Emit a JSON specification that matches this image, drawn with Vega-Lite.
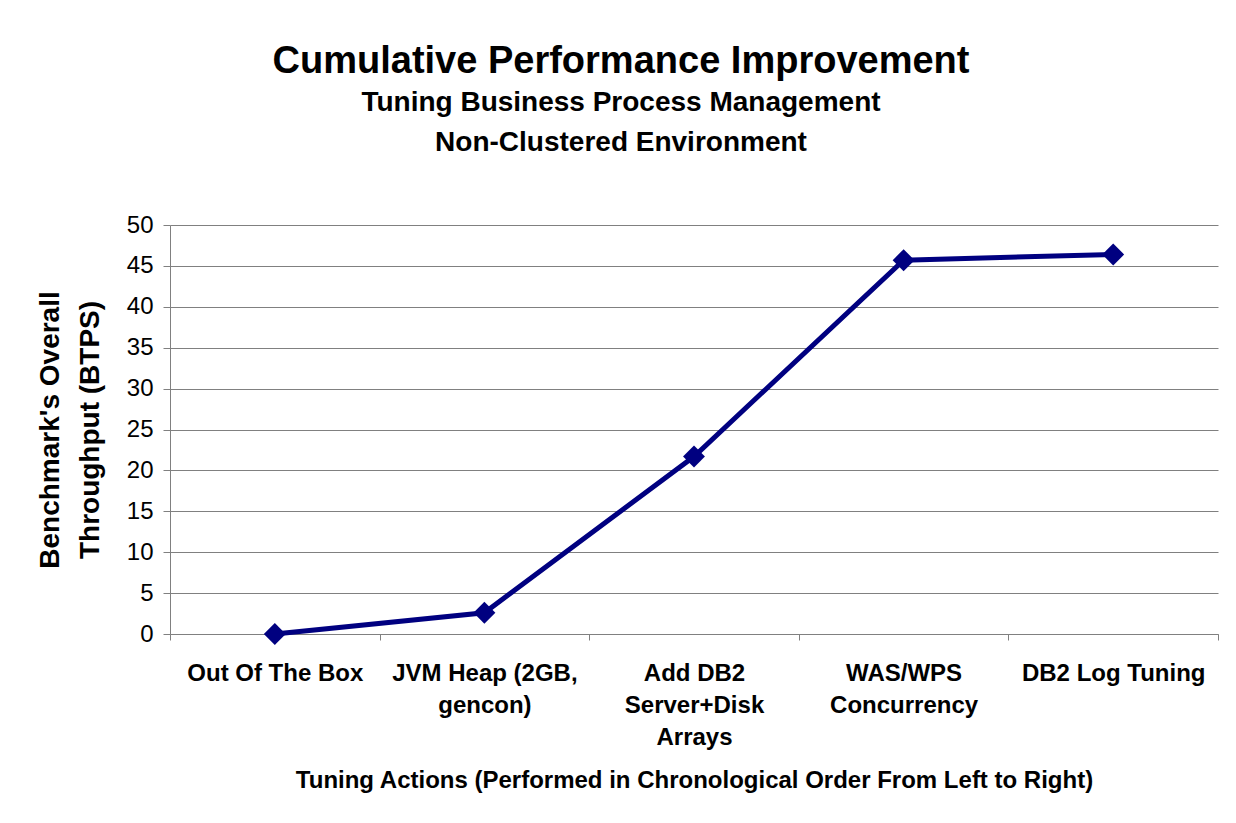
{
  "$schema": "https://vega.github.io/schema/vega-lite/v6.json",
  "autosize": {"type": "none"},
  "width": 1048,
  "height": 409,
  "padding": {"left": 170, "top": 225, "right": 18, "bottom": 189},
  "background": "white",
  "title": {
    "text": "Cumulative Performance Improvement",
    "subtitle": ["Tuning Business Process Management", "Non-Clustered Environment"],
    "anchor": "middle",
    "dx": -73,
    "offset": 56,
    "font": "Liberation Sans",
    "fontSize": 38,
    "fontWeight": "bold",
    "color": "black",
    "subtitleFont": "Liberation Sans",
    "subtitleFontSize": 28,
    "subtitleFontWeight": "bold",
    "subtitleColor": "black",
    "subtitleLineHeight": 40,
    "subtitlePadding": 8
  },
  "config": {
    "view": {"stroke": null},
    "axis": {
      "labelFont": "Liberation Sans",
      "titleFont": "Liberation Sans",
      "labelColor": "black",
      "titleColor": "black",
      "domainColor": "#808080",
      "tickColor": "#808080",
      "gridColor": "#808080",
      "gridOpacity": 1,
      "domainWidth": 1,
      "tickWidth": 1
    }
  },
  "data": {
    "values": [
      {"action": "Out Of The Box", "throughput": 0},
      {"action": "JVM Heap (2GB, gencon)", "throughput": 2.6},
      {"action": "Add DB2 Server+Disk Arrays", "throughput": 21.7},
      {"action": "WAS/WPS Concurrency", "throughput": 45.7},
      {"action": "DB2 Log Tuning", "throughput": 46.4}
    ]
  },
  "encoding": {
    "x": {
      "field": "action",
      "type": "nominal",
      "sort": null,
      "bandPosition": 0.5,
      "scale": {"type": "band", "paddingInner": 0, "paddingOuter": 0},
      "axis": {
        "title": "Tuning Actions (Performed in Chronological Order From Left to Right)",
        "titleFontSize": 24,
        "titleFontWeight": "bold",
        "titlePadding": 19,
        "labelAngle": 0,
        "labelFontSize": 24,
        "labelFontWeight": "bold",
        "labelLineHeight": 32,
        "labelPadding": 21,
        "labelLimit": 400,
        "tickBand": "extent",
        "tickSize": 6,
        "grid": false,
        "labelExpr": "datum.value == 'JVM Heap (2GB, gencon)' ? ['JVM Heap (2GB,', 'gencon)'] : datum.value == 'Add DB2 Server+Disk Arrays' ? ['Add DB2', 'Server+Disk', 'Arrays'] : datum.value == 'WAS/WPS Concurrency' ? ['WAS/WPS', 'Concurrency'] : datum.value"
      }
    },
    "y": {
      "field": "throughput",
      "type": "quantitative",
      "scale": {"domain": [0, 50], "nice": false},
      "axis": {
        "title": ["Benchmark's Overall", "Throughput (BTPS)"],
        "titleFontSize": 28,
        "titleFontWeight": "bold",
        "titleLineHeight": 40,
        "titlePadding": 22,
        "labelFontSize": 24,
        "labelFontWeight": "normal",
        "labelPadding": 10,
        "values": [0, 5, 10, 15, 20, 25, 30, 35, 40, 45, 50],
        "tickSize": 7,
        "grid": true
      }
    }
  },
  "layer": [
    {"mark": {"type": "line", "color": "#000080", "strokeWidth": 5}},
    {"mark": {"type": "point", "shape": "diamond", "filled": true, "color": "#000080", "size": 480, "opacity": 1}}
  ]
}
